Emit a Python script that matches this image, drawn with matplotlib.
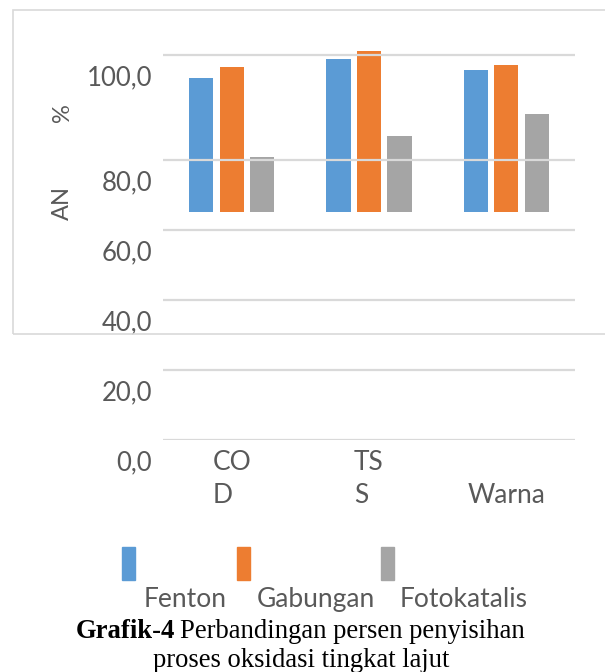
import numpy as np
import matplotlib
matplotlib.use("Agg")
import matplotlib.pyplot as plt
from matplotlib.patches import Rectangle
from matplotlib.transforms import ScaledTranslation

# data
categories = ["CO\nD", "TS\nS", "\nWarna"]
series = ["Fenton", "Gabungan", "Fotokatalis"]
fenton = [95.6, 99.2, 97.1]
gabungan = [97.7, 100.8, 98.1]
fotokatalis = [80.6, 84.6, 88.8]
yticks = [0, 20, 40, 60, 80, 100]
ytick_labels = ["0,0", "20,0", "40,0", "60,0", "80,0", "100,0"]

colors = ["#5B9BD5", "#ED7D31", "#A5A5A5"]
grey_text = "#595959"
W, H = 605, 672

# the original chart has an uneven value axis (80-100 is stretched)
knots_v = [0, 80, 140]
knots_s = [0, 280, 595]


def fwd(v):
    return np.interp(v, knots_v, knots_s)


def inv(s):
    return np.interp(s, knots_s, knots_v)


plt.rcParams["font.family"] = ["Lato", "DejaVu Sans"]

fig = plt.figure(figsize=(W / 100, H / 100), dpi=100)

# outer chart frame
fig.patches.append(Rectangle((13 / W, 1 - 334 / H), 600 / W, 324 / H,
                             transform=fig.transFigure, fill=False,
                             edgecolor="#d9d9d9", lw=1.2))

ax = fig.add_axes([163 / W, 1 - 440 / H, 412 / W, 395 / H])
ax.set_yscale("function", functions=(fwd, inv))
ax.set_ylim(0, inv(395))
ax.set_xlim(-0.5, 2.5)

x = np.arange(len(categories))
base = 65.1
width = 0.175
step = 0.222
for i, (vals, c) in enumerate(zip([fenton, gabungan, fotokatalis], colors)):
    ax.bar(x + (i - 1) * step, np.array(vals) - base, bottom=base, width=width,
           color=c, zorder=1)

ax.set_yticks(yticks)
ax.set_yticklabels(ytick_labels)
ax.yaxis.grid(True, color="#d9d9d9", lw=1.6, zorder=2)
ax.set_axisbelow(False)
ax.tick_params(axis="y", length=0, pad=8, labelsize=18.5, labelcolor=grey_text)
for lab in ax.get_yticklabels():
    lab.set_transform(lab.get_transform() + ScaledTranslation(0, -0.2, fig.dpi_scale_trans))

ax.set_xticks(x)
ax.set_xticklabels(categories)
ax.tick_params(axis="x", length=0, pad=7, labelsize=19, labelcolor=grey_text)
for lab in ax.get_xticklabels():
    lab.set_multialignment("left")
    lab.set_linespacing(1.4)

for s in ax.spines.values():
    s.set_visible(False)

# y axis title pieces as they appear
fig.text(62 / W, 1 - 113 / H, "%", rotation=90, ha="center", va="center",
         fontsize=17, color=grey_text)
fig.text(62 / W, 1 - 203 / H, "AN", rotation=90, ha="center", va="center",
         fontsize=17, color=grey_text)

# legend
patch_x = [122, 237, 381]
text_x = [144, 257, 400]
for name, c, px, tx in zip(series, colors, patch_x, text_x):
    fig.patches.append(Rectangle((px / W, 1 - 580 / H), 13 / W, 33 / H,
                                 transform=fig.transFigure, color=c))
    fig.text(tx / W, 1 - 607 / H, name, ha="left", va="baseline",
             fontsize=19, color=grey_text)

# caption
cap_y = 1 - 638 / H
t1 = fig.text(76 / W, cap_y, "Grafik-4", ha="left", va="baseline",
              family="Liberation Serif", fontweight="bold", fontsize=19.2)
fig.canvas.draw()
bb = t1.get_window_extent()
fig.text(bb.x1 / W + 5 / W, cap_y, "Perbandingan persen penyisihan",
         ha="left", va="baseline", family="Liberation Serif", fontsize=19.2)
fig.text(301 / W, 1 - 667 / H, "proses oksidasi tingkat lajut", ha="center",
         va="baseline", family="Liberation Serif", fontsize=19.2)

fig.savefig("out.png", dpi=100)
